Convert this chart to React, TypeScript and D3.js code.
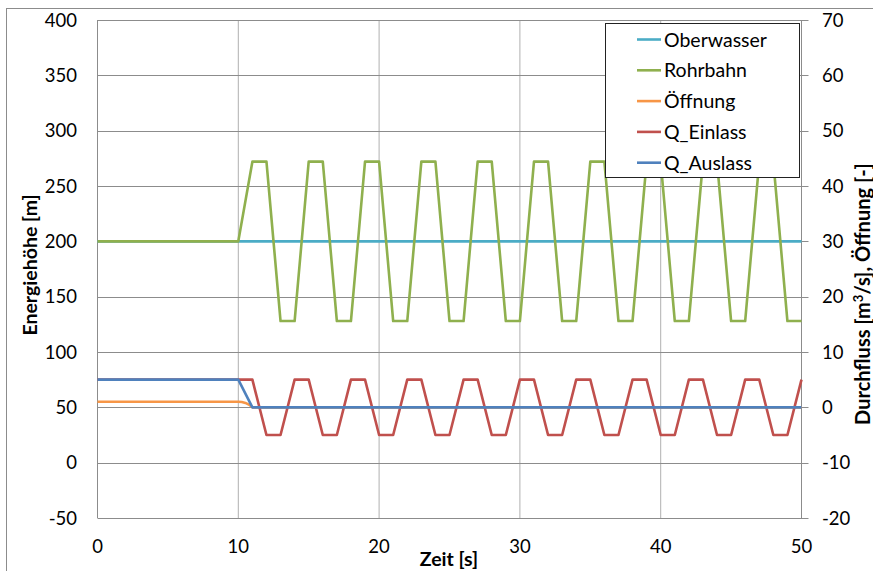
import React from 'react'
import * as d3 from 'd3'

// time axis [s]
const xTicks = [0, 10, 20, 30, 40, 50]
const yLeftTicks = [-50, 0, 50, 100, 150, 200, 250, 300, 350, 400]
const yRightTicks = [-20, -10, 0, 10, 20, 30, 40, 50, 60, 70]

// Oberwasser [m]
const oberT = [0, 50]
const oberV = [200, 200]

// Rohrbahn [m]
const rohrT = [0, 10, 11, 12, 13, 14, 15, 16, 17, 18, 19, 20, 21, 22, 23, 24, 25, 26, 27, 28, 29, 30,
  31, 32, 33, 34, 35, 36, 37, 38, 39, 40, 41, 42, 43, 44, 45, 46, 47, 48, 49, 50]
const rohrV = [200, 200, 272, 272, 128, 128, 272, 272, 128, 128, 272, 272, 128, 128, 272, 272, 128, 128, 272, 272, 128, 128,
  272, 272, 128, 128, 272, 272, 128, 128, 272, 272, 128, 128, 272, 272, 128, 128, 272, 272, 128, 128]

// Öffnung [-]
const oeffT = [0, 10, 10.25, 10.5, 10.75, 11, 50]
const oeffV = [1, 1, 0.95, 0.8, 0.5, 0, 0]

// Q_Einlass [m³/s]
const einT = [0, 10, 11, 12, 13, 14, 15, 16, 17, 18, 19, 20, 21, 22, 23, 24, 25, 26, 27, 28, 29, 30,
  31, 32, 33, 34, 35, 36, 37, 38, 39, 40, 41, 42, 43, 44, 45, 46, 47, 48, 49, 50]
const einV = [5, 5, 5, -5, -5, 5, 5, -5, -5, 5, 5, -5, -5, 5, 5, -5, -5, 5, 5, -5, -5, 5,
  5, -5, -5, 5, 5, -5, -5, 5, 5, -5, -5, 5, 5, -5, -5, 5, 5, -5, -5, 5]

// Q_Auslass [m³/s]
const ausT = [0, 10, 11, 50]
const ausV = [5, 5, 0, 0]

const series = [
  { name: 'Oberwasser', t: oberT, v: oberV, axis: 'left', color: '#4BACC6' },
  { name: 'Rohrbahn', t: rohrT, v: rohrV, axis: 'left', color: '#8FB04E' },
  { name: 'Öffnung', t: oeffT, v: oeffV, axis: 'right', color: '#F79646' },
  { name: 'Q_Einlass', t: einT, v: einV, axis: 'right', color: '#C0504D' },
  { name: 'Q_Auslass', t: ausT, v: ausV, axis: 'right', color: '#4F81BD' },
]

const font = 'Lato, "Open Sans", sans-serif'

export default function App() {
  const W = 873, H = 571
  const left = 97.5, right = 801.5, top = 20, bottom = 518

  const x = d3.scaleLinear().domain([0, 50]).range([left, right])
  const yL = d3.scaleLinear().domain([-50, 400]).range([bottom, top])
  const yR = d3.scaleLinear().domain([-20, 70]).range([bottom, top])

  const makeLine = (s: any) => {
    const y = s.axis === 'left' ? yL : yR
    const pts = s.t.map((t: number, i: number) => [t, s.v[i]])
    return d3.line<number[]>().x(d => x(d[0])).y(d => y(d[1]))(pts) || ''
  }

  const legendX = 605.5, legendY = 23.5, legendW = 194, legendH = 154
  const rowY = (i: number) => 39.5 + i * 30.8

  return (
    <svg width={W} height={H} style={{ position: 'absolute', left: 0, top: 0, background: '#fff' }} fontFamily={font}>
      <rect x={6.5} y={8.5} width={W + 20} height={H + 20} fill="#fff" stroke="#8c8c8c" />

      {/* vertical gridlines */}
      <g>
        {xTicks.map(d => (
          <line key={d} x1={x(d)} x2={x(d)} y1={top} y2={bottom} stroke="#b0b0b0" strokeWidth={1} />
        ))}
      </g>
      {/* horizontal gridlines + right axis ticks */}
      <g>
        {yLeftTicks.map(d => (
          <line key={d} x1={left} x2={right + 7} y1={Math.round(yL(d)) + 0.5} y2={Math.round(yL(d)) + 0.5} stroke="#8c8c8c" strokeWidth={1} />
        ))}
      </g>
      <line x1={left} x2={left} y1={top} y2={bottom} stroke="#8c8c8c" />
      <line x1={right} x2={right} y1={top} y2={bottom} stroke="#8c8c8c" />

      {/* left axis labels */}
      <g fontSize={18.5} fill="#000" textAnchor="end">
        {yLeftTicks.map(d => (
          <text key={d} x={77} y={yL(d)} dy="0.36em">{d}</text>
        ))}
      </g>
      {/* right axis labels */}
      <g fontSize={18.5} fill="#000" textAnchor="start">
        {yRightTicks.map(d => (
          <text key={d} x={822} y={yR(d)} dy="0.36em">{d}</text>
        ))}
      </g>
      {/* x axis labels */}
      <g fontSize={18.5} fill="#000" textAnchor="middle">
        {xTicks.map(d => (
          <text key={d} x={x(d)} y={553}>{d}</text>
        ))}
      </g>

      {/* axis titles */}
      <text x={449} y={566} fontSize={19.5} fontWeight="bold" textAnchor="middle">Zeit [s]</text>
      <text transform="translate(37,265) rotate(-90)" fontSize={19.5} fontWeight="bold" textAnchor="middle">Energiehöhe [m]</text>
      <text transform="translate(870,294) rotate(-90)" fontSize={20} fontWeight="bold" textAnchor="middle">
        Durchfluss [m<tspan dy="-7" fontSize={13}>3</tspan><tspan dy="7">/s], Öffnung [-]</tspan>
      </text>

      {/* series */}
      <g fill="none" strokeWidth={2.6} strokeLinejoin="round">
        {series.map(s => (
          <path key={s.name} d={makeLine(s)} stroke={s.color} />
        ))}
      </g>

      {/* legend */}
      <rect x={legendX} y={legendY} width={legendW} height={legendH} fill="#fff" stroke="#222" strokeWidth={1} />
      {series.map((s, i) => (
        <g key={s.name}>
          <line x1={637} x2={661} y1={rowY(i)} y2={rowY(i)} stroke={s.color} strokeWidth={2.6} />
          <text x={664} y={rowY(i)} dy="0.36em" fontSize={19.5}>{s.name}</text>
        </g>
      ))}
    </svg>
  )
}
